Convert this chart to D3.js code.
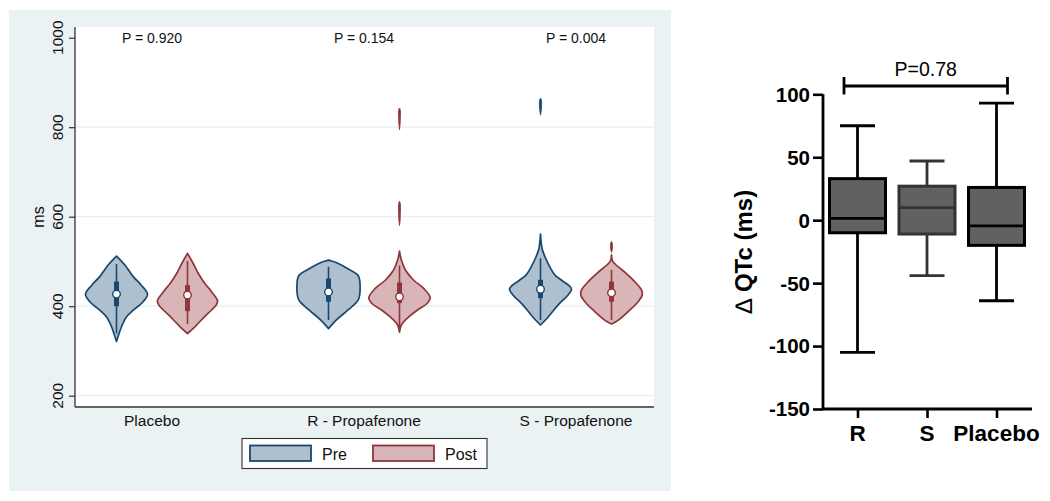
<!DOCTYPE html>
<html>
<head>
<meta charset="utf-8">
<script src="https://cdn.jsdelivr.net/npm/d3@7"></script>
<style>
  html, body { margin: 0; padding: 0; background: #fff; }
  svg { display: block; font-family: "Liberation Sans", Arial, sans-serif; }
</style>
</head>
<body>
<svg id="chart" width="1050" height="501"></svg>
<script>
// ---------------- Left panel data (QTc, ms) ----------------
const groups = ["Placebo", "R - Propafenone", "S - Propafenone"];
const pLabels = ["P = 0.920", "P = 0.154", "P = 0.004"];
const seriesNames = ["Pre", "Post"];
const leftTicks = [200, 400, 600, 800, 1000];

// violin profiles: [ms, relative density]
const placeboPre = [[512,0],[492,0.27],[466,0.54],[447,0.8],[427,1],[410,0.86],[391,0.54],[376,0.32],[354,0.16],[336,0.07],[321,0]];
const placeboPost = [[518,0],[496,0.18],[473,0.35],[451,0.56],[432,0.78],[412,0.97],[403,0.93],[391,0.77],[373,0.5],[354,0.24],[339,0]];
const rPre = [[503,0],[501,0.1],[496,0.3],[483,0.64],[468,0.96],[440,1.02],[414,0.96],[391,0.62],[369,0.25],[350,0]];
const rPost = [[523,0],[503,0.06],[481,0.19],[458,0.46],[440,0.78],[419,0.99],[406,0.89],[391,0.57],[373,0.25],[358,0.06],[342,0]];
const sPre = [[561,0],[529,0.05],[511,0.14],[488,0.3],[470,0.46],[458,0.68],[445,0.94],[438,1],[425,0.89],[403,0.57],[376,0.25],[358,0]];
const sPost = [[515,0],[500,0.04],[488,0.22],[473,0.48],[455,0.75],[436,0.97],[425,0.99],[410,0.86],[388,0.54],[369,0.22],[360,0]];
// small separate density lumps (outliers)
const rPostLumpHigh = [[843,0],[838,0.03],[820,0.028],[805,0.018],[794,0]];
const rPostLumpLow = [[635,0],[628,0.03],[605,0.028],[590,0.018],[580,0]];
const sPreLump = [[865,0],[860,0.03],[840,0.028],[827,0]];
const sPostLump = [[545,0],[540,0.03],[528,0.028],[520,0]];

// box stats: [lower adjacent, q1, median, q3, upper adjacent]
const placeboPreBox = [339, 400, 427, 455, 494];
const placeboPostBox = [360, 389, 425, 447, 501];
const rPreBox = [369, 410, 432, 462, 488];
const rPostBox = [351, 407, 421, 453, 491];
const sPreBox = [369, 418, 438, 459, 507];
const sPostBox = [369, 410, 430, 455, 481];

// ---------------- Right panel data (delta QTc, ms) ----------------
const deltaCategories = ["R", "S", "Placebo"];
const deltaMin = [-105, -44, -64];
const deltaQ1 = [-10, -11, -20];
const deltaMedian = [1.5, 10, -4.5];
const deltaQ3 = [33, 27, 26];
const deltaMax = [75, 47, 93];
const deltaTicks = [100, 50, 0, -50, -100, -150];
const deltaP = "P=0.78";

// ---------------- Drawing ----------------
const svg = d3.select("#chart");
const colors = {
  Pre: { fill: "#aebfcf", stroke: "#1a476f" },
  Post: { fill: "#dab5b8", stroke: "#90353b" }
};

// Left panel background
const L = { x0: 9, y0: 10, x1: 671, y1: 491, px0: 75, px1: 654, py0: 27, py1: 407 };
svg.append("rect").attr("x", L.x0).attr("y", L.y0).attr("width", L.x1 - L.x0).attr("height", L.y1 - L.y0).attr("fill", "#eaf2f3");
svg.append("rect").attr("x", L.px0).attr("y", L.py0).attr("width", L.px1 - L.px0).attr("height", L.py1 - L.py0).attr("fill", "#ffffff");

const yL = d3.scaleLinear().domain([200, 1000]).range([395.7, 37.7]);
const xG = d3.scalePoint().domain(groups).range([152, 576]);
const xS = d3.scalePoint().domain(seriesNames).range([-35.5, 35.5]);
const wScale = d3.scaleLinear().domain([0, 1]).range([0, 31]);

// gridlines
svg.append("g").selectAll("line").data(leftTicks.filter(t => t < 1000)).join("line")
  .attr("x1", L.px0).attr("x2", L.px1)
  .attr("y1", d => yL(d)).attr("y2", d => yL(d))
  .attr("stroke", "#e6eff1").attr("stroke-width", 1.2);

// y axis
const yAxisL = svg.append("g").attr("transform", `translate(${L.px0},0)`)
  .call(d3.axisLeft(yL).tickValues(leftTicks).tickSize(6).tickFormat(""));
yAxisL.select(".domain").attr("d", `M0,${L.py0}V${L.py1}`).attr("stroke", "#333").attr("stroke-width", 1.3);
yAxisL.selectAll(".tick line").attr("stroke", "#333").attr("stroke-width", 1.2);
svg.append("g").selectAll("text").data(leftTicks).join("text")
  .attr("transform", d => `translate(63,${yL(d)}) rotate(-90)`)
  .attr("text-anchor", "middle").attr("font-size", 15.5).attr("fill", "#111")
  .text(d => d);
svg.append("text").attr("transform", `translate(44,${(L.py0 + L.py1) / 2}) rotate(-90)`)
  .attr("text-anchor", "middle").attr("font-size", 16).attr("fill", "#111").text("ms");

// x axis
svg.append("line").attr("x1", L.px0).attr("x2", L.px1).attr("y1", L.py1).attr("y2", L.py1)
  .attr("stroke", "#333").attr("stroke-width", 1.3);
svg.append("g").selectAll("text").data(groups).join("text")
  .attr("x", d => xG(d)).attr("y", 426).attr("text-anchor", "middle")
  .attr("font-size", 15.5).attr("fill", "#111").text(d => d);

// P labels
svg.append("g").selectAll("text").data(groups).join("text")
  .attr("x", d => xG(d)).attr("y", 43).attr("text-anchor", "middle")
  .attr("font-size", 14).attr("fill", "#111").text((d, i) => pLabels[i]);

// violins
const violins = [
  { g: "Placebo", s: "Pre", prof: [placeboPre], box: placeboPreBox },
  { g: "Placebo", s: "Post", prof: [placeboPost], box: placeboPostBox },
  { g: "R - Propafenone", s: "Pre", prof: [rPre], box: rPreBox },
  { g: "R - Propafenone", s: "Post", prof: [rPost, rPostLumpHigh, rPostLumpLow], box: rPostBox },
  { g: "S - Propafenone", s: "Pre", prof: [sPre, sPreLump], box: sPreBox },
  { g: "S - Propafenone", s: "Post", prof: [sPost, sPostLump], box: sPostBox }
];

violins.forEach(v => {
  const cx = xG(v.g) + xS(v.s);
  const c = colors[v.s];
  const area = d3.area()
    .y(d => yL(d[0]))
    .x0(d => cx - wScale(d[1]))
    .x1(d => cx + wScale(d[1]))
    .curve(d3.curveCatmullRom.alpha(0.5));
  v.prof.forEach((p, i) => {
    svg.append("path").attr("d", area(p))
      .attr("fill", i === 0 ? c.fill : c.stroke)
      .attr("stroke", c.stroke).attr("stroke-width", i === 0 ? 1.7 : 0.8)
      .attr("stroke-linejoin", "round");
  });
  const b = v.box;
  svg.append("line").attr("x1", cx).attr("x2", cx).attr("y1", yL(b[0])).attr("y2", yL(b[4]))
    .attr("stroke", c.stroke).attr("stroke-width", 1.6);
  svg.append("rect").attr("x", cx - 2.5).attr("width", 5)
    .attr("y", yL(b[3])).attr("height", yL(b[1]) - yL(b[3]))
    .attr("fill", c.stroke);
  svg.append("circle").attr("cx", cx).attr("cy", yL(b[2])).attr("r", 3.8)
    .attr("fill", "#fff").attr("stroke", c.stroke).attr("stroke-width", 1.4);
});

// legend
const lg = svg.append("g");
lg.append("rect").attr("x", 242).attr("y", 438.5).attr("width", 245).attr("height", 30)
  .attr("fill", "#fff").attr("stroke", "#333").attr("stroke-width", 1.1);
const legX = { Pre: 250, Post: 373 };
seriesNames.forEach(s => {
  lg.append("rect").attr("x", legX[s]).attr("y", 445.5).attr("width", 61).attr("height", 15.5)
    .attr("fill", colors[s].fill).attr("stroke", colors[s].stroke).attr("stroke-width", 1.8);
  lg.append("text").attr("x", legX[s] + 72).attr("y", 459.5).attr("font-size", 16).attr("fill", "#111").text(s);
});

// ---------------- Right panel ----------------
const yR = d3.scaleLinear().domain([-150, 100]).range([409, 94.3]);
const xR = d3.scalePoint().domain(deltaCategories).range([857.5, 996.5]);
const axX = 823, axRight = 1032;

const yAxisR = svg.append("g").attr("transform", `translate(${axX},0)`)
  .call(d3.axisLeft(yR).tickValues(deltaTicks).tickSize(10).tickFormat(""));
yAxisR.select(".domain").attr("d", `M0,${yR(100)}V${yR(-150)}`).attr("stroke", "#000").attr("stroke-width", 2.8);
yAxisR.selectAll(".tick line").attr("stroke", "#000").attr("stroke-width", 2.6);
svg.append("g").selectAll("text").data(deltaTicks).join("text")
  .attr("x", 810).attr("y", d => yR(d)).attr("dy", "0.36em")
  .attr("text-anchor", "end").attr("font-size", 20.5).attr("font-weight", "bold").attr("fill", "#000")
  .text(d => d);

const xAxisR = svg.append("g").attr("transform", `translate(0,${yR(-150)})`)
  .call(d3.axisBottom(xR).tickSize(9).tickFormat(""));
xAxisR.select(".domain").attr("d", `M${axX},0H${axRight}`).attr("stroke", "#000").attr("stroke-width", 2.8);
xAxisR.selectAll(".tick line").attr("stroke", "#000").attr("stroke-width", 2.6);
svg.append("g").selectAll("text").data(deltaCategories).join("text")
  .attr("x", d => xR(d)).attr("y", 441).attr("text-anchor", "middle")
  .attr("font-size", 22.5).attr("font-weight", "bold").attr("fill", "#000").text(d => d);

// y label
const yl = svg.append("text").attr("transform", `translate(752,${(yR(100) + yR(-150)) / 2}) rotate(-90)`)
  .attr("text-anchor", "middle").attr("font-size", 24).attr("font-weight", "bold").attr("fill", "#000");
yl.append("tspan").attr("font-weight", "normal").text("\u2206");
yl.append("tspan").text(" QTc (ms)");

// boxes
const boxW = 56, capW = 35;
deltaCategories.forEach((c, i) => {
  const cx = xR(c);
  const col = c === "S" ? "#333" : "#000";
  const g = svg.append("g");
  g.append("line").attr("x1", cx).attr("x2", cx).attr("y1", yR(deltaMax[i])).attr("y2", yR(deltaQ3[i]))
    .attr("stroke", col).attr("stroke-width", 2.8);
  g.append("line").attr("x1", cx).attr("x2", cx).attr("y1", yR(deltaQ1[i])).attr("y2", yR(deltaMin[i]))
    .attr("stroke", col).attr("stroke-width", 2.8);
  [deltaMax[i], deltaMin[i]].forEach(v => {
    g.append("line").attr("x1", cx - capW / 2).attr("x2", cx + capW / 2).attr("y1", yR(v)).attr("y2", yR(v))
      .attr("stroke", col).attr("stroke-width", 2.8);
  });
  g.append("rect").attr("x", cx - boxW / 2).attr("width", boxW)
    .attr("y", yR(deltaQ3[i])).attr("height", yR(deltaQ1[i]) - yR(deltaQ3[i]))
    .attr("fill", "#616161").attr("stroke", col).attr("stroke-width", 3);
  g.append("line").attr("x1", cx - boxW / 2).attr("x2", cx + boxW / 2)
    .attr("y1", yR(deltaMedian[i])).attr("y2", yR(deltaMedian[i]))
    .attr("stroke", col).attr("stroke-width", 2.8);
});

// significance bracket
const bx0 = xR("R") - 13.5, bx1 = xR("Placebo") + 11;
const by = 86;
const br = svg.append("g").attr("stroke", "#000").attr("stroke-width", 2.8);
br.append("line").attr("x1", bx0).attr("x2", bx1).attr("y1", by).attr("y2", by);
br.append("line").attr("x1", bx0).attr("x2", bx0).attr("y1", by - 9).attr("y2", by + 8.5);
br.append("line").attr("x1", bx1).attr("x2", bx1).attr("y1", by - 9).attr("y2", by + 8.5);
svg.append("text").attr("x", (bx0 + bx1) / 2).attr("y", 76).attr("text-anchor", "middle")
  .attr("font-size", 19.5).attr("fill", "#000").text(deltaP);
</script>
</body>
</html>
